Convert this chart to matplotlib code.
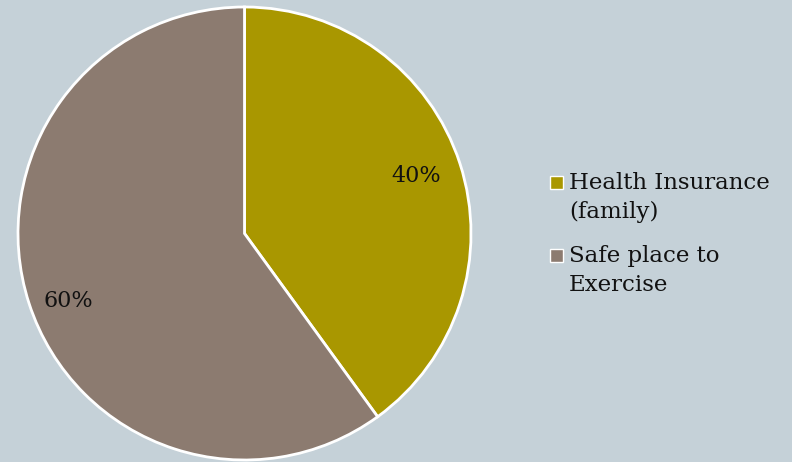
import matplotlib.pyplot as plt
from matplotlib.patches import Rectangle

labels = ['Health Insurance\n(family)', 'Safe place to\nExercise']
values = [40, 60]
colors = ['#a99700', '#8c7b70']
bg = '#c5d1d8'

plt.rcParams['font.family'] = 'DejaVu Serif'

W, H = 792, 462
fig = plt.figure(figsize=(W/100, H/100), dpi=100, facecolor=bg)
ax = fig.add_axes([18/W, 2/H, 453/W, 453/H])
ax.set_facecolor(bg)

wedges, texts, autotexts = ax.pie(values, colors=colors, startangle=90, counterclock=False,
                                  autopct='%d%%', pctdistance=0.82,
                                  wedgeprops=dict(edgecolor='white', linewidth=2),
                                  textprops=dict(fontsize=16, color='#111111'))
# nudge the 60% label a little lower, as in the original
x, y = autotexts[1].get_position()
autotexts[1].set_position((x, y - 0.045))
x, y = autotexts[0].get_position()
autotexts[0].set_position((x - 0.02, y))
ax.set_aspect('equal')
ax.set_xlim(-1.0, 1.0)
ax.set_ylim(-1.0, 1.0)
ax.axis('off')

# legend: square aligned with first line of each wrapped label
for i, (lab, c) in enumerate(zip(labels, colors)):
    top = 176 + i * 73
    fig.patches.append(Rectangle((550/W, 1 - (top + 13)/H), 13/W, 13/H,
                                 transform=fig.transFigure, facecolor=c,
                                 edgecolor='white', linewidth=1))
    fig.text(569/W, 1 - (top - 4)/H, lab, ha='left', va='top', fontsize=16.5,
             linespacing=1.42, color='#111111')

plt.savefig('out.png', dpi=100, facecolor=bg)
